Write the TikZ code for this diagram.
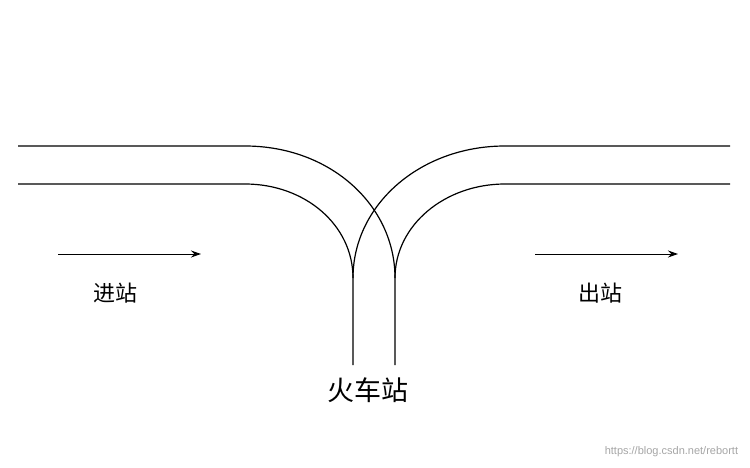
\documentclass[tikz,border=0pt]{standalone}
\usetikzlibrary{arrows.meta}
\usepackage{fontspec}
\newfontfamily\cjk{Noto Sans CJK SC}
\setsansfont{Liberation Sans}
\begin{document}
\begin{tikzpicture}[x=1pt,y=-1pt,line width=1.2pt,
  rail/.style={draw=black},
  flow/.style={draw=black,line width=1pt,-{Stealth[length=10pt,width=7pt]}},
  lbl/.style={font=\cjk\fontsize{22}{24}\selectfont}]
\useasboundingbox[fill=white] (0,0) rectangle (750,468);
\coordinate (a1) at (18,146); \coordinate (a2) at (245,146);
\coordinate (b1) at (18,184); \coordinate (b2) at (245,184);
\coordinate (c1) at (505,146); \coordinate (c2) at (730,146);
\coordinate (d1) at (505,184); \coordinate (d2) at (730,184);
\coordinate (p) at (353,278); \coordinate (q) at (395,278);
\coordinate (p2) at (353,365); \coordinate (q2) at (395,365);
\draw[rail] (a1) -- (a2) .. controls (330,146) and (395,205) .. (q) -- (q2);
\draw[rail] (b1) -- (b2) .. controls (305,184) and (353,225) .. (p) -- (p2);
\draw[rail] (c2) -- (c1) .. controls (420,146) and (353,205) .. (p);
\draw[rail] (d2) -- (d1) .. controls (445,184) and (395,225) .. (q);
\coordinate (l1) at (58,254); \coordinate (l2) at (201,254);
\coordinate (r1) at (535,254); \coordinate (r2) at (678,254);
\draw[flow] (l1) -- (l2);
\draw[flow] (r1) -- (r2);
\node[lbl] (in) at (115,293) {进站};
\node[lbl] (out) at (600,293) {出站};
\node[lbl,font=\cjk\fontsize{27}{29}\selectfont] (st) at (368,390) {火车站};
\node[font=\sffamily\fontsize{11}{12}\selectfont,text=gray!70,anchor=east] (wm) at (742,452) {https://blog.csdn.net/rebortt};
\end{tikzpicture}
\end{document}
